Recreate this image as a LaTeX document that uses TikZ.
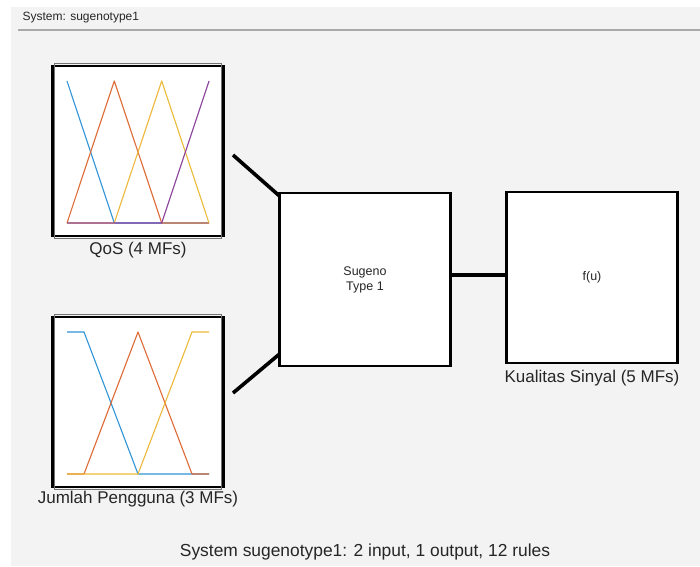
\documentclass[tikz,border=0pt]{standalone}
\usepackage{fontspec}
\setmainfont{Liberation Sans}
\definecolor{panel}{HTML}{F3F3F3}
\definecolor{rulegray}{HTML}{A9A9A9}
\definecolor{mfblue}{HTML}{2F95D6}
\definecolor{mforange}{HTML}{DE6A35}
\definecolor{mfyellow}{HTML}{EDB93A}
\definecolor{mfpurple}{HTML}{8A3F9C}
\begin{document}
\begin{tikzpicture}[x=1pt,y=-1pt,
  varbox/.style={draw=black,line width=2.4pt,fill=white,minimum width=171pt,minimum height=170pt,inner sep=0pt,outer sep=0pt},
  innerrim/.style={draw=black!55,line width=0.9pt},
  blockbox/.style={draw=black,line width=2.6pt,fill=white,minimum width=171pt,minimum height=173pt,inner sep=0pt,outer sep=0pt,font=\fontsize{12.5}{15}\selectfont,align=center,text=black!85},
  wire/.style={line width=3.6pt,black},
  mf/.style={line width=1.1pt,line join=round},
  caption/.style={font=\fontsize{17}{19}\selectfont,text=black!85}]
\useasboundingbox (0,0) rectangle (700,566);
\fill[white] (0,0) rectangle (700,566);
\fill[panel] (11,7) rectangle (700,566);
\node[anchor=west,font=\fontsize{12}{14}\selectfont,text=black!85] (title) at (19,18) {System: sugenotype1};
\draw[rulegray,line width=1.6pt] (18,30) -- (700,30);

% input variable blocks
\node[varbox] (qos) at (138,151) {};
\draw[innerrim] ([shift={(2.2,-2.2)}]qos.north west) rectangle ([shift={(-2.2,2.2)}]qos.south east);
\node[varbox] (jml) at (138,402) {};
\draw[innerrim] ([shift={(2.2,-2.2)}]jml.north west) rectangle ([shift={(-2.2,2.2)}]jml.south east);

% QoS membership functions
\draw[mf,mfblue] (67,81) -- (114.3,223) -- (209,223);
\draw[mf,mforange] (67,223) -- (114.3,81) -- (161.7,223) -- (209,223);
\draw[mf,mfyellow] (67,223) -- (114.3,223) -- (161.7,81) -- (209,223);
\draw[mf,mfpurple] (67,223) -- (161.7,223) -- (209,81);

% Jumlah Pengguna membership functions
\draw[mf,mfblue] (67,332) -- (84,332) -- (138,474) -- (209,474);
\draw[mf,mforange] (67,474) -- (84,474) -- (138,332) -- (192,474) -- (209,474);
\draw[mf,mfyellow] (67,474) -- (138,474) -- (192,332) -- (209,332);

\node[caption] (qoslbl) at (138,250) {QoS (4 MFs)};
\node[caption] (jmllbl) at (138,499) {Jumlah Pengguna (3 MFs)};

% inference and output blocks
\node[blockbox] (fis) at (365,279.5) {Sugeno\\Type 1};
\node[blockbox,minimum height=171pt] (out) at (592,277.5) {f(u)};
\node[caption] (outlbl) at (592,378) {Kualitas Sinyal (5 MFs)};

% connectors
\coordinate (in1) at (233,155);
\coordinate (in2) at (233,393);
\draw[wire] (in1) -- ([yshift=-3pt]fis.north west);
\draw[wire] (in2) -- ([yshift=12pt]fis.south west);
\draw[wire] (fis.east |- 0,275) -- (out.west |- 0,275);

\node[font=\fontsize{17.4}{19}\selectfont,text=black!85] (summary) at (365,552) {System sugenotype1: 2 input, 1 output, 12 rules};
\end{tikzpicture}
\end{document}
